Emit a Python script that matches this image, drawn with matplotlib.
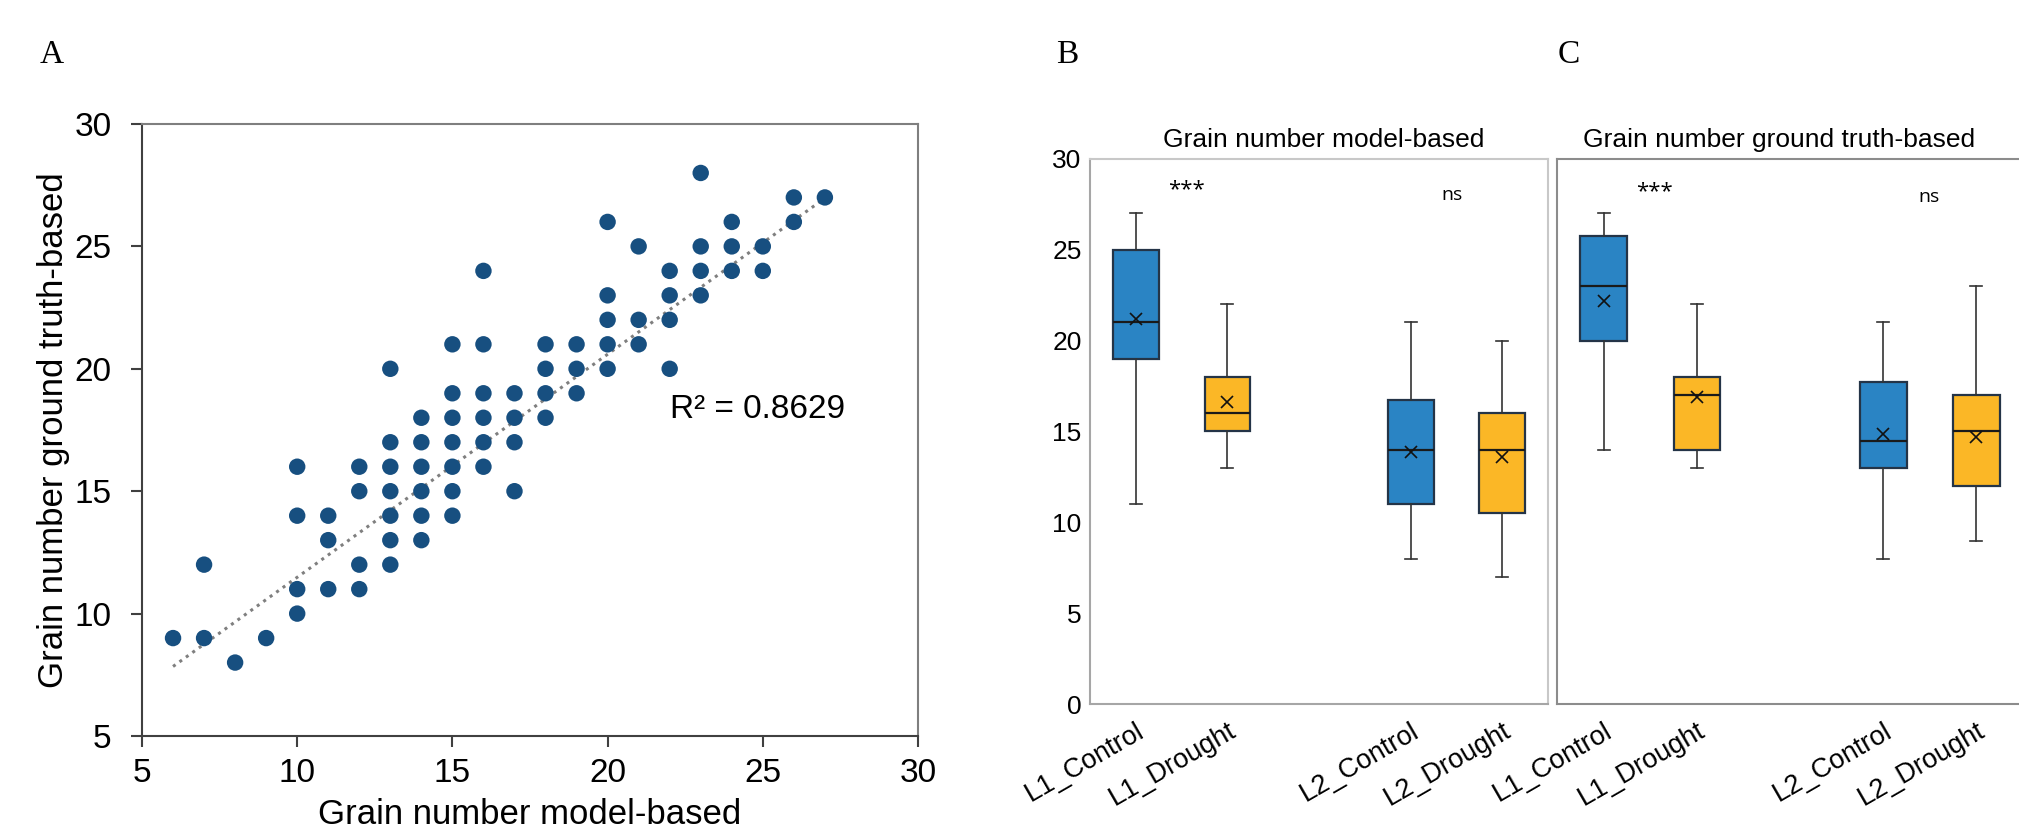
import numpy as np
import matplotlib
matplotlib.use("Agg")
import matplotlib.pyplot as plt
import matplotlib.transforms as mtransforms

plt.rcParams['font.family'] = ['Liberation Sans', 'DejaVu Sans']

# ---------------- Data: panel A (scatter) ----------------
model_x = [6, 7, 7, 8, 9,
           10, 10, 10, 10,
           11, 11, 11,
           12, 12, 12, 12,
           13, 13, 13, 13, 13, 13, 13,
           14, 14, 14, 14, 14, 14,
           15, 15, 15, 15, 15, 15, 15,
           16, 16, 16, 16, 16, 16,
           17, 17, 17, 17,
           18, 18, 18, 18,
           19, 19, 19,
           20, 20, 20, 20, 20,
           21, 21, 21,
           22, 22, 22, 22,
           23, 23, 23, 23,
           24, 24, 24,
           25, 25,
           26, 26,
           27]
truth_y = [9, 12, 9, 8, 9,
           16, 14, 11, 10,
           14, 13, 11,
           16, 15, 12, 11,
           20, 17, 16, 15, 14, 13, 12,
           18, 17, 16, 15, 14, 13,
           21, 19, 18, 17, 16, 15, 14,
           24, 21, 19, 18, 17, 16,
           19, 18, 17, 15,
           21, 20, 19, 18,
           21, 20, 19,
           26, 23, 22, 21, 20,
           25, 22, 21,
           24, 23, 22, 20,
           28, 25, 24, 23,
           26, 25, 24,
           25, 24,
           27, 26,
           27]
# linear trend line as drawn in the original (end points)
trend_x = [6, 27]
trend_y = [7.84, 26.97]
r2_text = "R\u00b2 = 0.8629"

# ---------------- Data: panels B and C (box plots) ----------------
groups = ["L1_Control", "L1_Drought", "L2_Control", "L2_Drought"]
group_pos = [1, 2, 4, 5]

# model-based (B)
b_whislo = [11, 13, 8, 7]
b_q1     = [19, 15, 11, 10.5]
b_med    = [21, 16, 14, 14]
b_q3     = [25, 18, 16.75, 16]
b_whishi = [27, 22, 21, 20]
b_mean   = [21.2, 16.6, 13.85, 13.6]

# ground truth-based (C)
c_whislo = [14, 13, 8, 9]
c_q1     = [20, 14, 13, 12]
c_med    = [23, 17, 14.5, 15]
c_q3     = [25.75, 18, 17.75, 17]
c_whishi = [27, 22, 21, 23]
c_mean   = [22.2, 16.9, 14.85, 14.7]

sig_labels = ["***", "ns"]

# ---------------- Figure ----------------
W, H = 2019, 838
fig = plt.figure(figsize=(W / 100, H / 100), dpi=100)

def ax_rect(l, t, r, b):
    return [l / W, 1 - b / H, (r - l) / W, (b - t) / H]

axA = fig.add_axes(ax_rect(142, 124, 918, 736))
axB = fig.add_axes(ax_rect(1090, 159, 1548, 704))
axC = fig.add_axes(ax_rect(1557, 159, 2023, 704))

# ---------- Panel A ----------
dot_color = "#174f80"
axA.scatter(model_x, truth_y, s=140, color=dot_color, edgecolors='none', zorder=3)
axA.plot(trend_x, trend_y, linestyle=(0, (1, 1.6)), color="#7f7f7f", lw=2.2, zorder=2)
axA.set_xlim(5, 30)
axA.set_ylim(5, 30)
axA.set_xticks([5, 10, 15, 20, 25, 30])
axA.set_yticks([5, 10, 15, 20, 25, 30])
axA.tick_params(axis='both', direction='out', length=8, width=1.5, color='#404040',
                labelsize=24)
axA.tick_params(axis='x', pad=8)
axA.tick_params(axis='y', pad=14)
for side in ['left', 'bottom']:
    axA.spines[side].set_color('#404040')
    axA.spines[side].set_linewidth(1.5)
for side in ['top', 'right']:
    axA.spines[side].set_color('#7f7f7f')
    axA.spines[side].set_linewidth(1.5)
axA.set_xlabel("Grain number model-based", fontsize=25, labelpad=6)
axA.set_ylabel("Grain number ground truth-based", fontsize=25, labelpad=3)
axA.text(22, 18, r2_text, fontsize=24, ha='left', va='baseline')

# ---------- Panels B and C ----------
blue = "#2a84c4"
orange = "#fbb726"
box_colors = [blue, orange, blue, orange]

def make_stats(lo, q1, med, q3, hi, mean):
    out = []
    for i in range(len(groups)):
        out.append(dict(whislo=lo[i], q1=q1[i], med=med[i], q3=q3[i],
                        whishi=hi[i], mean=mean[i], fliers=[], label=groups[i]))
    return out

def draw_box(ax, stats, title, title_x):
    bp = ax.bxp(stats, positions=group_pos, widths=0.5, patch_artist=True,
                showmeans=True, showfliers=False, capwidths=0.13,
                boxprops=dict(linewidth=1.6, edgecolor='#243447'),
                medianprops=dict(color='#1a1a1a', linewidth=1.6),
                whiskerprops=dict(color='#333333', linewidth=1.2),
                capprops=dict(color='#333333', linewidth=1.2),
                meanprops=dict(marker='x', markeredgecolor='#111111',
                               markerfacecolor='#111111', markersize=9,
                               markeredgewidth=1.2))
    for patch, c in zip(bp['boxes'], box_colors):
        patch.set_facecolor(c)
    ax.set_xlim(0.5, 5.5)
    ax.set_ylim(0, 30)
    ax.set_yticks([0, 5, 10, 15, 20, 25, 30])
    ax.set_xticks(group_pos)
    offset = mtransforms.ScaledTranslation(4 / 100, 0, fig.dpi_scale_trans)
    ax.set_xticklabels(groups, rotation=30, ha='right', va='top',
                       rotation_mode='anchor', fontsize=19.5)
    for lab in ax.get_xticklabels():
        lab.set_transform(lab.get_transform() + offset)
    ax.tick_params(axis='x', length=0, pad=10)
    ax.tick_params(axis='y', length=0, pad=6, labelsize=19)
    ax.text(title_x, 1.012, title, transform=ax.transAxes, ha='center',
            va='bottom', fontsize=19)

draw_box(axB, make_stats(b_whislo, b_q1, b_med, b_q3, b_whishi, b_mean),
         "Grain number model-based", 0.51)
draw_box(axC, make_stats(c_whislo, c_q1, c_med, c_q3, c_whishi, c_mean),
         "Grain number ground truth-based", 0.477)
axC.tick_params(axis='y', labelleft=False)

for side in ['left', 'bottom']:
    axB.spines[side].set_color('#a6a6a6')
    axB.spines[side].set_linewidth(1.5)
for side in ['top', 'right']:
    axB.spines[side].set_color('#c8c8c8')
    axB.spines[side].set_linewidth(1.5)
for side in ['left', 'bottom', 'top', 'right']:
    axC.spines[side].set_color('#8c8c8c')
    axC.spines[side].set_linewidth(1.5)

sig_font = ['Open Sans', 'DejaVu Sans']
axB.text(1.55, 28.3, sig_labels[0], ha='center', va='center', fontsize=16, family=sig_font)
axB.text(4.45, 28.0, sig_labels[1], ha='center', va='center', fontsize=14, family=sig_font)
axC.text(1.55, 28.2, sig_labels[0], ha='center', va='center', fontsize=16, family=sig_font)
axC.text(4.49, 27.9, sig_labels[1], ha='center', va='center', fontsize=14, family=sig_font)

# panel letters
letter_font = ['Liberation Serif', 'DejaVu Serif']
fig.text(52 / W, 1 - 55 / H, "A", fontsize=24, ha='center', va='center', family=letter_font)
fig.text(1067 / W, 1 - 55 / H, "B", fontsize=24, ha='center', va='center', family=letter_font)
fig.text(1569 / W, 1 - 55 / H, "C", fontsize=24, ha='center', va='center', family=letter_font)

fig.savefig("out.png", dpi=100)
